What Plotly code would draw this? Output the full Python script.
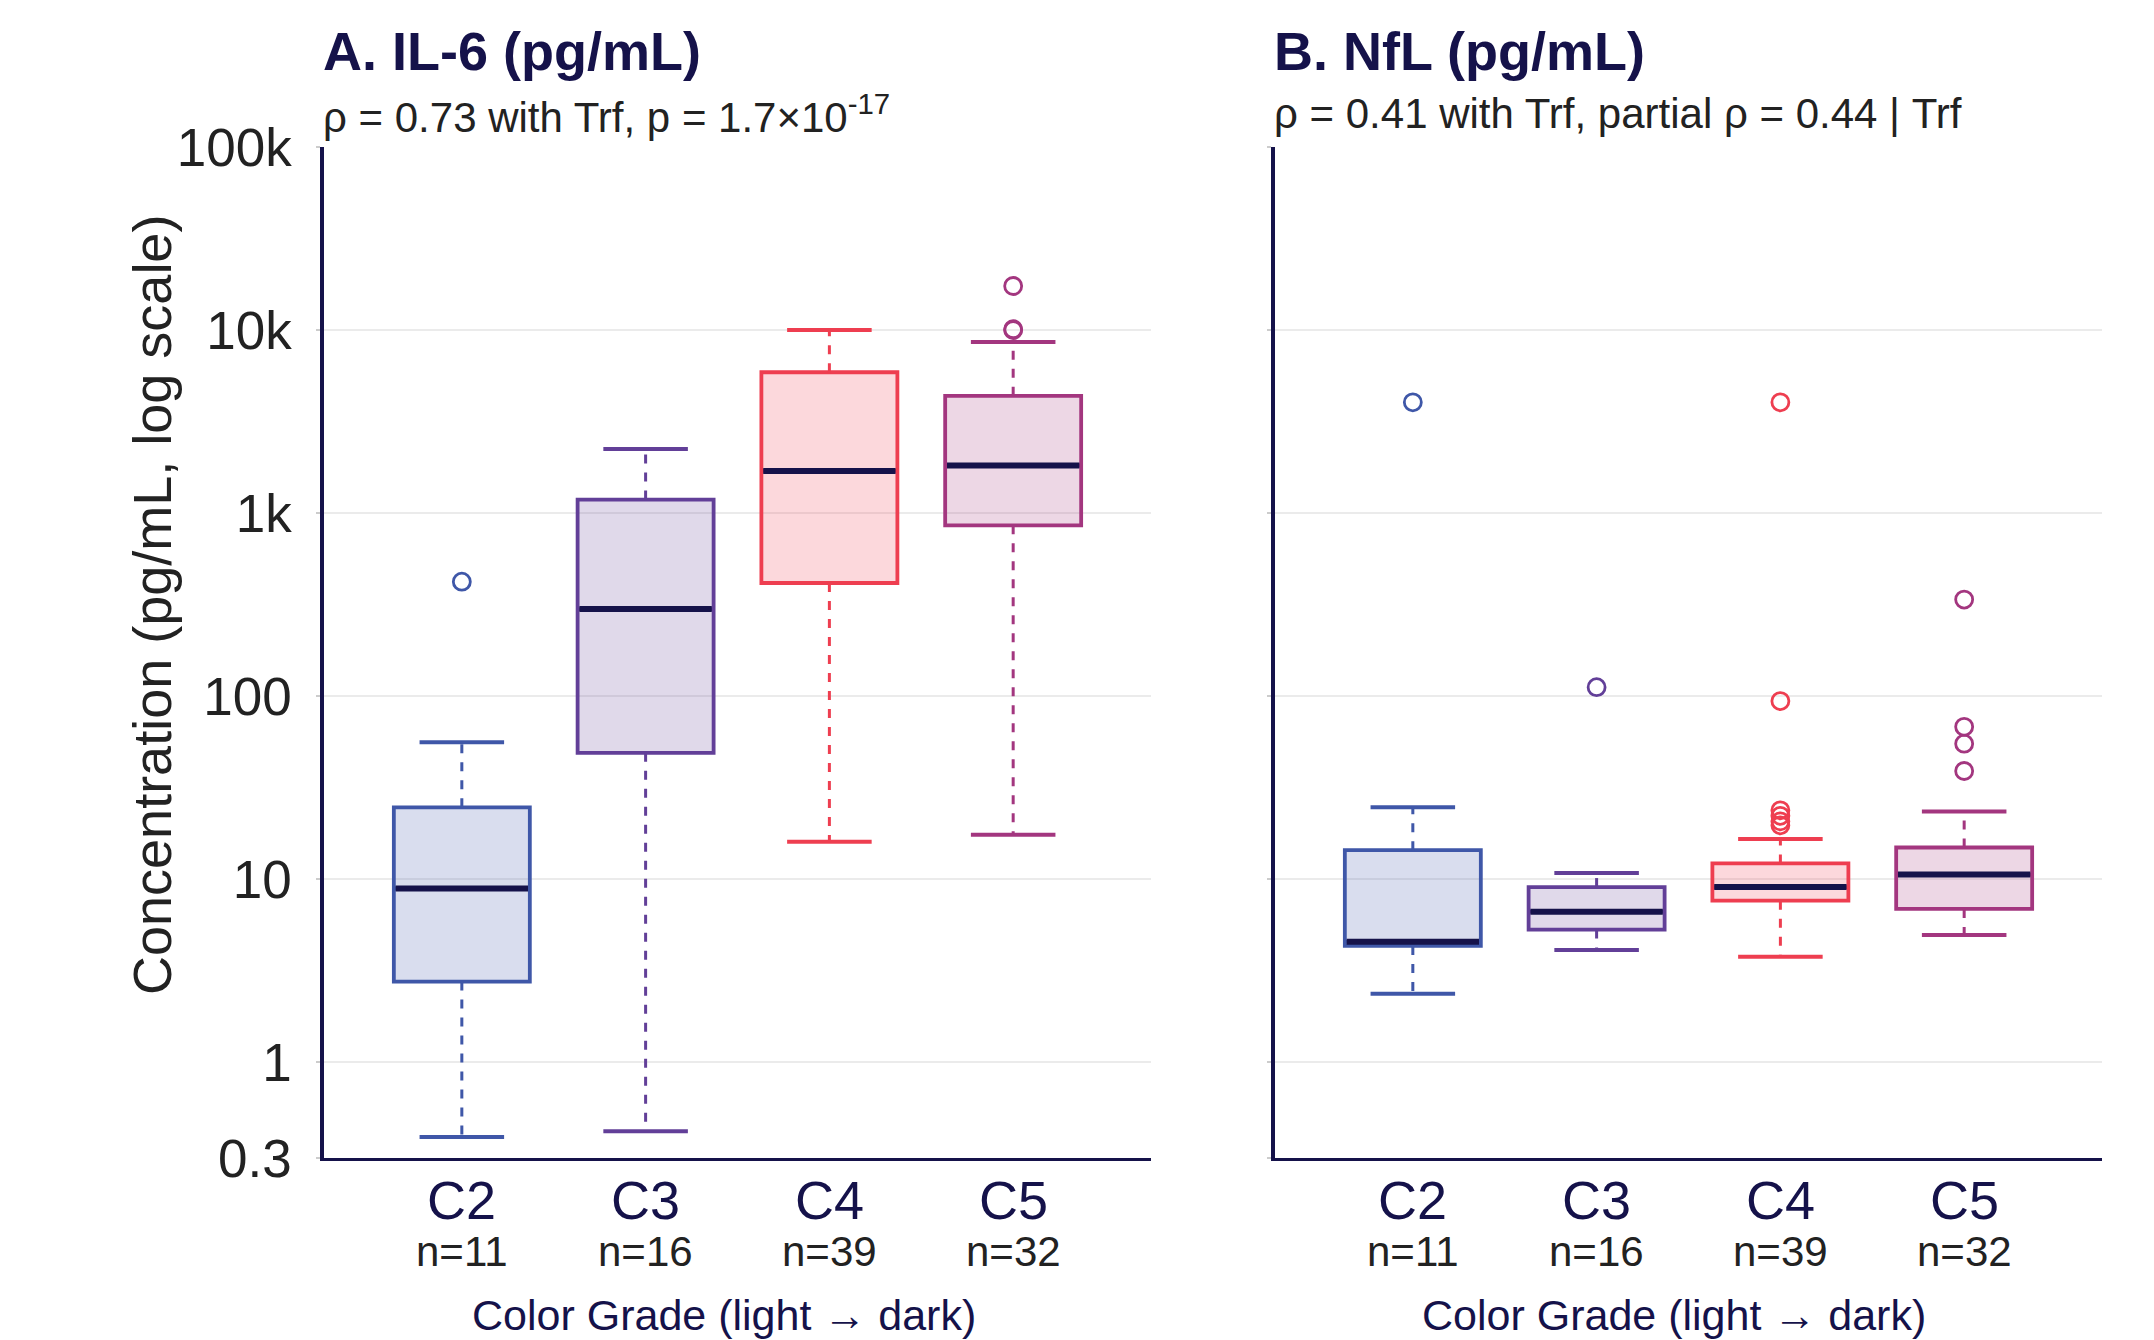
import plotly.graph_objects as go

# ---------------- data ----------------
categories = ["C2", "C3", "C4", "C5"]
n_labels = ["n=11", "n=16", "n=39", "n=32"]
colors = ["#3F57A8", "#623F98", "#EE3E50", "#A3367F"]
fills = ["rgba(63,87,168,0.2)", "rgba(98,63,152,0.2)", "rgba(238,62,80,0.2)", "rgba(163,54,127,0.2)"]

# Panel A: IL-6
il6_lowcap = [0.39, 0.42, 16.0, 17.5]
il6_q1 = [2.76, 49.0, 415.0, 857.0]
il6_median = [8.9, 299.0, 1700.0, 1820.0]
il6_q3 = [24.7, 1186.0, 5880.0, 4370.0]
il6_upcap = [56.0, 2240.0, 10000.0, 8600.0]
il6_outliers = [[422.0], [], [], [17400.0, 10000.0, 10100.0]]

# Panel B: NfL
nfl_lowcap = [2.37, 4.1, 3.77, 4.96]
nfl_q1 = [4.32, 5.31, 7.63, 6.88]
nfl_median = [4.55, 6.65, 9.06, 10.6]
nfl_q3 = [14.4, 9.06, 12.2, 14.9]
nfl_upcap = [24.7, 10.8, 16.6, 23.4]
nfl_outliers = [[4030.0], [112.0], [4030.0, 94.0, 23.8, 22.2, 20.7, 19.7], [337.0, 68.0, 55.0, 39.0]]

ytick_vals = [0.3, 1, 10, 100, 1000, 10000, 100000]
ytick_text = ["0.3", "1", "10", "100", "1k", "10k", "100k"]

titles = ["A. IL-6 (pg/mL)", "B. NfL (pg/mL)"]
subtitles = ["ρ = 0.73 with Trf, p = 1.7×10<sup>-17</sup>",
             "ρ = 0.41 with Trf, partial ρ = 0.44 | Trf"]

# ---------------- figure ----------------
W, H = 2154, 1340
OFF = 8  # page body margin
NAVY = "#15124A"
FONT = "Liberation Sans, Arial, sans-serif"


def px(x):
    return (x - OFF) / W


def py(y):
    return 1 - (y - OFF) / H


fig = go.Figure()

positions = list(range(len(categories)))
BOXW = 0.74
CAPW = 0.46

panels = [
    ("x", "y", il6_lowcap, il6_q1, il6_median, il6_q3, il6_upcap, il6_outliers),
    ("x2", "y2", nfl_lowcap, nfl_q1, nfl_median, nfl_q3, nfl_upcap, nfl_outliers),
]

for xa, ya, lc, q1, med, q3, uc, outs in panels:
    for i, p in enumerate(positions):
        c = colors[i]
        fig.add_trace(go.Scatter(
            x=[p, p, None, p, p], y=[q3[i], uc[i], None, q1[i], lc[i]],
            mode="lines", line=dict(color=c, width=3, dash="dash"),
            xaxis=xa, yaxis=ya, hoverinfo="skip", showlegend=False))
        fig.add_trace(go.Scatter(
            x=[p - CAPW / 2, p + CAPW / 2, None, p - CAPW / 2, p + CAPW / 2],
            y=[uc[i], uc[i], None, lc[i], lc[i]],
            mode="lines", line=dict(color=c, width=4),
            xaxis=xa, yaxis=ya, hoverinfo="skip", showlegend=False))
        fig.add_trace(go.Box(
            x=[p], q1=[q1[i]], median=[med[i]], q3=[q3[i]],
            lowerfence=[q1[i]], upperfence=[q3[i]],
            width=BOXW, fillcolor=fills[i], line=dict(color=c, width=3.8),
            boxpoints=False, whiskerwidth=0,
            xaxis=xa, yaxis=ya, showlegend=False))
        fig.add_trace(go.Scatter(
            x=[p - BOXW / 2 + 0.01, p + BOXW / 2 - 0.01], y=[med[i], med[i]],
            mode="lines", line=dict(color=NAVY, width=6),
            xaxis=xa, yaxis=ya, hoverinfo="skip", showlegend=False))
        if outs[i]:
            fig.add_trace(go.Scatter(
                x=[p] * len(outs[i]), y=outs[i], mode="markers",
                marker=dict(symbol="circle-open", size=17, color=c, line=dict(width=2.8)),
                xaxis=xa, yaxis=ya, showlegend=False))

ydom = [py(1158), py(147)]
xdom1 = [px(324), px(1151)]
xdom2 = [px(1275), px(2102)]

xcommon = dict(
    range=[-0.75, 3.75], tickvals=positions, showticklabels=False,
    showgrid=False, zeroline=False, showline=True, linecolor=NAVY, linewidth=2.5,
    ticks="", automargin=False,
)
ycommon = dict(
    type="log", range=[-0.523, 5.0], tickvals=ytick_vals, ticktext=ytick_text,
    showgrid=True, gridcolor="#EBEBEB", gridwidth=2, zeroline=False,
    showline=True, linecolor=NAVY, linewidth=3.5,
    ticks="outside", ticklen=4, tickcolor="#CCCCCC", tickwidth=1.5,
    automargin=False,
)

fig.update_layout(
    width=W, height=H, margin=dict(l=0, r=0, t=0, b=0, autoexpand=False),
    paper_bgcolor="white", plot_bgcolor="white", showlegend=False,
    font=dict(family=FONT),
    xaxis=dict(domain=xdom1, anchor="y", **xcommon),
    xaxis2=dict(domain=xdom2, anchor="y2", **xcommon),
    yaxis=dict(domain=ydom, anchor="x", showticklabels=True,
               tickfont=dict(family=FONT, size=53, color="#222222"),
               ticklabelstandoff=14, **ycommon),
    yaxis2=dict(domain=ydom, anchor="x2", matches="y", showticklabels=False, **ycommon),
)

annotations = []
for k, (xr, dom) in enumerate([("x", xdom1), ("x2", xdom2)]):
    annotations.append(dict(
        x=dom[0], y=py(51), xref="paper", yref="paper", xanchor="left", yanchor="middle",
        xshift=-3, text="<b>" + titles[k] + "</b>", showarrow=False,
        font=dict(family=FONT, size=54, color=NAVY)))
    annotations.append(dict(
        x=dom[0], y=py(114), xref="paper", yref="paper", xanchor="left", yanchor="middle",
        xshift=-3, text=subtitles[k], showarrow=False,
        font=dict(family=FONT, size=42, color="#222222")))
    for i, p in enumerate(positions):
        # category label
        annotations.append(dict(
            x=p, y=py(1200), xref=xr, yref="paper", xanchor="center", yanchor="middle",
            text=categories[i], showarrow=False,
            font=dict(family=FONT, size=54, color=NAVY)))
        # n label
        annotations.append(dict(
            x=p, y=py(1251), xref=xr, yref="paper", xanchor="center", yanchor="middle",
            text=n_labels[i], showarrow=False,
            font=dict(family=FONT, size=42, color="#222222")))
    annotations.append(dict(
        x=(dom[0] + dom[1]) / 2, y=py(1315), xref="paper", yref="paper",
        xanchor="center", yanchor="middle", xshift=-14,
        text="Color Grade (light → dark)", showarrow=False,
        font=dict(family=FONT, size=43, color=NAVY)))

annotations.append(dict(
    x=px(152), y=py(605), xref="paper", yref="paper", xanchor="center", yanchor="middle",
    text="Concentration (pg/mL, log scale)", textangle=-90, showarrow=False,
    font=dict(family=FONT, size=54, color="#222222")))

fig.update_layout(annotations=annotations)

fig.write_html("out.html")
